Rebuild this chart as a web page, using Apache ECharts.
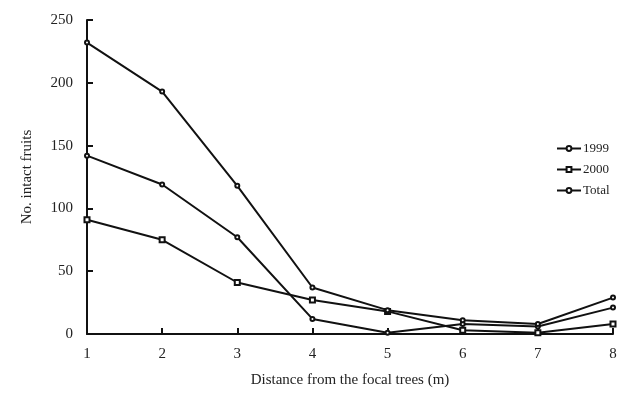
<!DOCTYPE html>
<html><head><meta charset="utf-8">
<script src="https://cdn.jsdelivr.net/npm/echarts@6/dist/echarts.min.js"></script>
<style>html,body{margin:0;padding:0;background:#fff}#c{width:627px;height:409px}</style>
</head><body><div id="c"></div>
<script>
var distances = [1,2,3,4,5,6,7,8];
var y1999 = [142,119,77,12,1,8,6,21];
var y2000 = [91,75,41,27,18,3,1,8];
var yTotal = [232,193,118,37,19,11,8,29];
var seriesNames = ['1999','2000','Total'];
var xTitle = 'Distance from the focal trees (m)';
var yTitle = 'No. intact fruits';

function pairs(v){ return distances.map(function(d,i){return [d,v[i]];}); }
var font = 'Liberation Serif, Times New Roman, serif';
var chart = echarts.init(document.getElementById('c'));
function s(name, data, sym, size){
  return {name:name,type:'line',data:pairs(data),symbol:sym,symbolSize:size,
    lineStyle:{color:'#111',width:2},itemStyle:{color:'#111',borderColor:'#111',borderWidth:1.2},
    emphasis:{disabled:true}};
}
chart.setOption({
  animation:false,
  backgroundColor:'#fff',
  grid:{left:87,right:14,top:20,bottom:75},
  legend:{left:551,top:137,orient:'vertical',itemWidth:24,itemHeight:6,itemGap:8,
    textStyle:{fontFamily:font,fontSize:13,color:'#222',padding:[0,0,0,-3]},
    data:seriesNames},
  xAxis:{type:'value',min:1,max:8,interval:1,
    name:xTitle,nameLocation:'middle',nameGap:39,
    nameTextStyle:{fontFamily:font,fontSize:15,color:'#222'},
    axisLine:{lineStyle:{color:'#111',width:2}},
    axisTick:{inside:true,length:6,lineStyle:{color:'#111',width:2}},
    axisLabel:{fontFamily:font,fontSize:15,color:'#222',margin:13},
    splitLine:{show:false}},
  yAxis:{type:'value',min:0,max:250,interval:50,
    name:yTitle,nameLocation:'middle',nameGap:52,
    nameTextStyle:{fontFamily:font,fontSize:15,color:'#222'},
    axisLine:{show:true,lineStyle:{color:'#111',width:2}},
    axisTick:{show:true,inside:true,length:6,lineStyle:{color:'#111',width:2}},
    axisLabel:{fontFamily:font,fontSize:15,color:'#222',margin:14},
    splitLine:{show:false}},
  series:[
    s('1999',y1999,'emptyCircle',4),
    s('2000',y2000,'emptyRect',5),
    s('Total',yTotal,'emptyCircle',4)
  ]
});
</script></body></html>
